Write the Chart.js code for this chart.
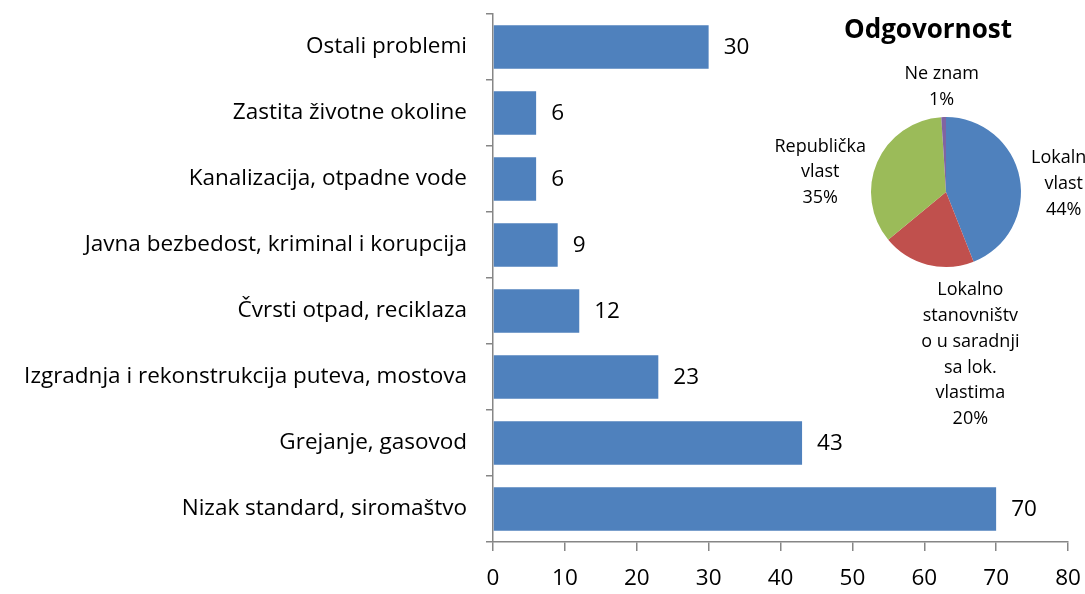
<!DOCTYPE html>
<html>
<head>
<meta charset="utf-8">
<script src="https://cdn.jsdelivr.net/npm/chart.js@4.4.0/dist/chart.umd.min.js"></script>
<style>
  html, body { margin: 0; padding: 0; background: #fff; }
  #wrap { position: relative; width: 1085px; height: 594px; overflow: hidden; }
  #bar-chart { position: absolute; left: 0; top: 0; }
  #pie-chart { position: absolute; left: 760px; top: 0; }
</style>
</head>
<body>
<div id="wrap">
  <canvas id="bar-chart" width="1085" height="594"></canvas>
  <canvas id="pie-chart" width="325" height="440"></canvas>
</div>
<script>
  'use strict';
  // problem categories, top to bottom
  var categories = ["Ostali problemi", "Zastita životne okoline", "Kanalizacija, otpadne vode",
    "Javna bezbedost, kriminal i korupcija", "Čvrsti otpad, reciklaza",
    "Izgradnja i rekonstrukcija puteva, mostova", "Grejanje, gasovod", "Nizak standard, siromaštvo"];
  var problemValues = [30, 6, 6, 9, 12, 23, 43, 70];
  var xTicks = [0, 10, 20, 30, 40, 50, 60, 70, 80];

  // pie "Odgovornost"
  var pieTitle = "Odgovornost";
  var pieCategories = ["Lokalna vlast", "Lokalno stanovništvo u saradnji sa lok. vlastima", "Republička vlast", "Ne znam"];
  var pieLines = [["Lokalna", "vlast"], ["Lokalno", "stanovništv", "o u saradnji", "sa lok.", "vlastima"], ["Republička", "vlast"], ["Ne znam"]];
  var pieValues = [44, 20, 35, 1];

  var FONT = "'Open Sans', sans-serif";
  var axisGray = '#868686';

  var barValueLabels = {
    id: 'barValueLabels',
    afterDatasetsDraw: function(chart) {
      var ctx = chart.ctx;
      var meta = chart.getDatasetMeta(0);
      ctx.save();
      ctx.font = '22.5px ' + FONT;
      ctx.fillStyle = '#000';
      ctx.textAlign = 'left';
      ctx.textBaseline = 'middle';
      meta.data.forEach(function(bar, i) {
        ctx.fillText(String(problemValues[i]), bar.x + 15, bar.y + 1);
      });
      ctx.restore();
    }
  };

  new Chart(document.getElementById('bar-chart'), {
    type: 'bar',
    data: {
      labels: categories,
      datasets: [{
        data: problemValues,
        backgroundColor: '#4F81BD',
        borderWidth: 0,
        barPercentage: 0.66,
        categoryPercentage: 1
      }]
    },
    options: {
      indexAxis: 'y',
      responsive: false,
      animation: false,
      devicePixelRatio: 1,
      layout: { padding: { top: 14, right: 17, left: 0, bottom: 0 } },
      plugins: { legend: { display: false }, tooltip: { enabled: false } },
      scales: {
        x: {
          min: 0, max: 80,
          afterBuildTicks: function(scale) { scale.ticks = xTicks.map(function(v) { return { value: v }; }); },
          afterFit: function(scale) { scale.height = 52; scale.paddingRight = 0; scale.paddingLeft = 0; },
          grid: { drawOnChartArea: false, tickLength: 9, color: axisGray, lineWidth: 1.5 },
          border: { color: axisGray, width: 1.5 },
          ticks: { color: '#000', font: { family: FONT, size: 22.5 }, padding: 14, maxRotation: 0 }
        },
        y: {
          afterFit: function(scale) { scale.width = 493; scale.paddingTop = 0; scale.paddingBottom = 0; },
          grid: { drawOnChartArea: false, tickLength: 7, color: axisGray, lineWidth: 1.5, offset: true },
          border: { color: axisGray, width: 1.5 },
          ticks: { color: '#000', font: { family: FONT, size: 22.5 }, padding: 19 }
        }
      }
    },
    plugins: [barValueLabels]
  });

  var pieDecor = {
    id: 'pieDecor',
    afterDraw: function(chart, args, opts) {
      var ctx = chart.ctx;
      var meta = chart.getDatasetMeta(0);
      var total = pieValues.reduce(function(a, b) { return a + b; }, 0);
      ctx.save();
      ctx.fillStyle = '#000';
      ctx.textAlign = 'center';
      ctx.textBaseline = 'middle';
      ctx.font = 'bold 26px ' + FONT;
      ctx.fillText(pieTitle, opts.titleX, opts.titleY);
      ctx.font = '18px ' + FONT;
      meta.data.forEach(function(arc, i) {
        var mid = (arc.startAngle + arc.endAngle) / 2;
        var cx = arc.x + Math.cos(mid) * arc.outerRadius + opts.offsets[i][0];
        var cy = arc.y + Math.sin(mid) * arc.outerRadius + opts.offsets[i][1];
        var lines = pieLines[i].concat([Math.round(pieValues[i] / total * 100) + '%']);
        var top = cy - (lines.length - 1) * opts.lineHeight / 2;
        lines.forEach(function(t, k) { ctx.fillText(t, cx, top + k * opts.lineHeight); });
      });
      ctx.restore();
    }
  };

  new Chart(document.getElementById('pie-chart'), {
    type: 'pie',
    data: {
      labels: pieCategories,
      datasets: [{
        data: pieValues,
        backgroundColor: ['#4F81BD', '#C0504D', '#9BBB59', '#8064A2'],
        borderWidth: 0
      }]
    },
    options: {
      responsive: false,
      animation: false,
      devicePixelRatio: 1,
      layout: { padding: { left: 111, right: 64, top: 117, bottom: 173 } },
      plugins: {
        legend: { display: false },
        tooltip: { enabled: false },
        pieDecor: {
          titleX: 168, titleY: 31, lineHeight: 25.8,
          offsets: [[44, 6], [43, 90], [-57, 10], [-2, -30]]
        }
      }
    },
    plugins: [pieDecor]
  });
</script>
</body>
</html>
